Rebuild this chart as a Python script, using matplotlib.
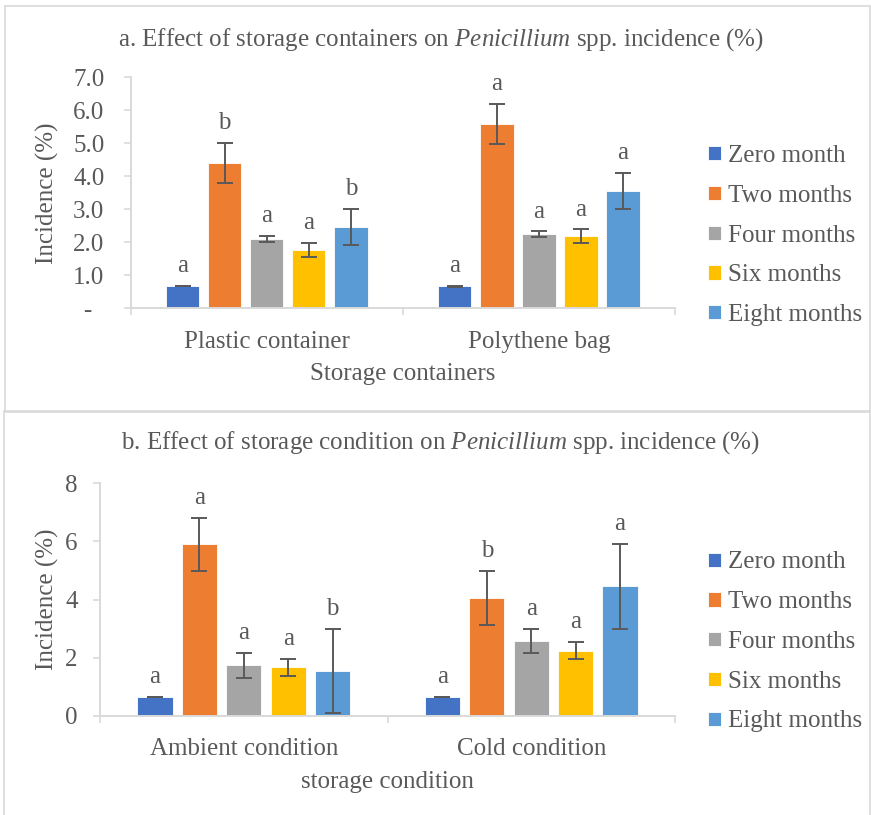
import matplotlib
matplotlib.use("Agg")
import matplotlib.pyplot as plt
from matplotlib.patches import Rectangle
import numpy as np

plt.rcParams['font.family'] = ['Liberation Serif', 'DejaVu Serif']
plt.rcParams['mathtext.fontset'] = 'custom'
plt.rcParams['mathtext.rm'] = 'Liberation Serif'
plt.rcParams['mathtext.it'] = 'Liberation Serif:italic'

series = ["Zero month", "Two months", "Four months", "Six months", "Eight months"]
colors = ["#4472C4", "#ED7D31", "#A5A5A5", "#FFC000", "#5B9BD5"]

# Panel a: storage containers
containers = ["Plastic container", "Polythene bag"]
cont_means = [[0.68, 0.67], [4.40, 5.58], [2.09, 2.25], [1.76, 2.18], [2.46, 3.55]]
cont_err = [[0.01, 0.01], [0.60, 0.60], [0.09, 0.08], [0.22, 0.21], [0.55, 0.54]]
cont_letters = [["a", "a"], ["b", "a"], ["a", "a"], ["a", "a"], ["b", "a"]]
cont_yticks = [0, 1, 2, 3, 4, 5, 6, 7]
cont_yticklabels = ["-  ", "1.0", "2.0", "3.0", "4.0", "5.0", "6.0", "7.0"]

# Panel b: storage conditions
conditions = ["Ambient condition", "Cold condition"]
cond_means = [[0.66, 0.65], [5.90, 4.06], [1.74, 2.59], [1.67, 2.25], [1.55, 4.46]]
cond_err = [[0.01, 0.01], [0.92, 0.93], [0.43, 0.41], [0.29, 0.29], [1.45, 1.46]]
cond_letters = [["a", "a"], ["a", "b"], ["a", "a"], ["a", "a"], ["b", "a"]]
cond_yticks = [0, 2, 4, 6, 8]
cond_yticklabels = ["0", "2", "4", "6", "8"]

TXT = "#595959"
GRID = "#D9D9D9"
FS = 18

fig = plt.figure(figsize=(8.71, 8.15), dpi=100)

# panel frames
fig.patches.append(Rectangle((5 / 871, 1 - 411.5 / 815), 865 / 871, 405.5 / 815,
                             transform=fig.transFigure, fill=False, edgecolor=GRID, lw=1.2))
fig.patches.append(Rectangle((4 / 871, -0.01), 866 / 871, 1 - 411.5 / 815 + 0.01,
                             transform=fig.transFigure, fill=False, edgecolor=GRID, lw=1.2))


def draw_panel(ax, cats, means, errs, letters, yticks, yticklabels, ymax,
               title, xlabel, title_y, ylab_x, legend_y, pad_y):
    x = np.arange(len(cats))
    w = 0.1225
    step = 0.1545
    handles = []
    for i, (name, col) in enumerate(zip(series, colors)):
        xs = x + (i - 2) * step
        b = ax.bar(xs, means[i], width=w, color=col, label=name, zorder=2,
                   edgecolor="white", linewidth=0.6)
        handles.append(b)
        ax.errorbar(xs, means[i], yerr=errs[i], fmt="none", ecolor="#595959",
                    elinewidth=1.4, capsize=5.5, capthick=1.4, zorder=3)
        for xi, m, e, lt in zip(xs, means[i], errs[i], letters[i]):
            ax.annotate(lt, (xi, m + e), xytext=(0, 10), textcoords="offset points",
                        ha="center", va="baseline", fontsize=FS, color=TXT)
    ax.set_xlim(-0.5, len(cats) - 0.5)
    ax.set_ylim(0, ymax)
    ax.set_yticks(yticks)
    ax.set_yticklabels(yticklabels)
    ax.set_xticks(x)
    ax.set_xticklabels(cats)
    ax.set_xticks(np.arange(len(cats) + 1) - 0.5, minor=True)
    ax.tick_params(axis="x", which="major", length=0, pad=16, labelsize=FS, labelcolor=TXT)
    ax.tick_params(axis="x", which="minor", length=5, width=1.2, color=GRID)
    ax.tick_params(axis="y", length=5, width=1.2, color=GRID, pad=pad_y,
                   labelsize=FS, labelcolor=TXT)
    for s in ("top", "right"):
        ax.spines[s].set_visible(False)
    for s in ("left", "bottom"):
        ax.spines[s].set_color(GRID)
        ax.spines[s].set_linewidth(1.4)
    ax.set_ylabel("Incidence (%)", fontsize=FS, color=TXT)
    ax.yaxis.set_label_coords(ylab_x, 0.5)
    ax.set_xlabel(xlabel, fontsize=FS, color=TXT)
    ax.xaxis.set_label_coords(0.5, -0.237)
    fig.text(0.506, title_y, title, ha="center", va="center", fontsize=FS, color=TXT)
    fig.legend(handles=handles, loc="center left", bbox_to_anchor=(708 / 871, legend_y),
               frameon=False, fontsize=FS, labelcolor=TXT, handlelength=0.5,
               handleheight=0.5, handletextpad=0.3, labelspacing=0.71,
               borderpad=0, borderaxespad=0)


ax1 = fig.add_axes([130.7 / 871, 1 - 308.3 / 815, 544.3 / 871, 231 / 815])
draw_panel(ax1, containers, cont_means, cont_err, cont_letters, cont_yticks,
           cont_yticklabels, 7,
           r"a. Effect of storage containers on $\mathit{Penicillium}$ spp. incidence (%)",
           "Storage containers", 1 - 40 / 815, -0.1317, 1 - 235.5 / 815, 14)

ax2 = fig.add_axes([100 / 871, 1 - 716 / 815, 575 / 871, 232.7 / 815])
draw_panel(ax2, conditions, cond_means, cond_err, cond_letters, cond_yticks,
           cond_yticklabels, 8,
           r"b. Effect of storage condition on $\mathit{Penicillium}$ spp. incidence (%)",
           "storage condition", 1 - 443 / 815, -0.0713, 1 - 642 / 815, 11)

fig.savefig("out.png", dpi=100, facecolor="white")
